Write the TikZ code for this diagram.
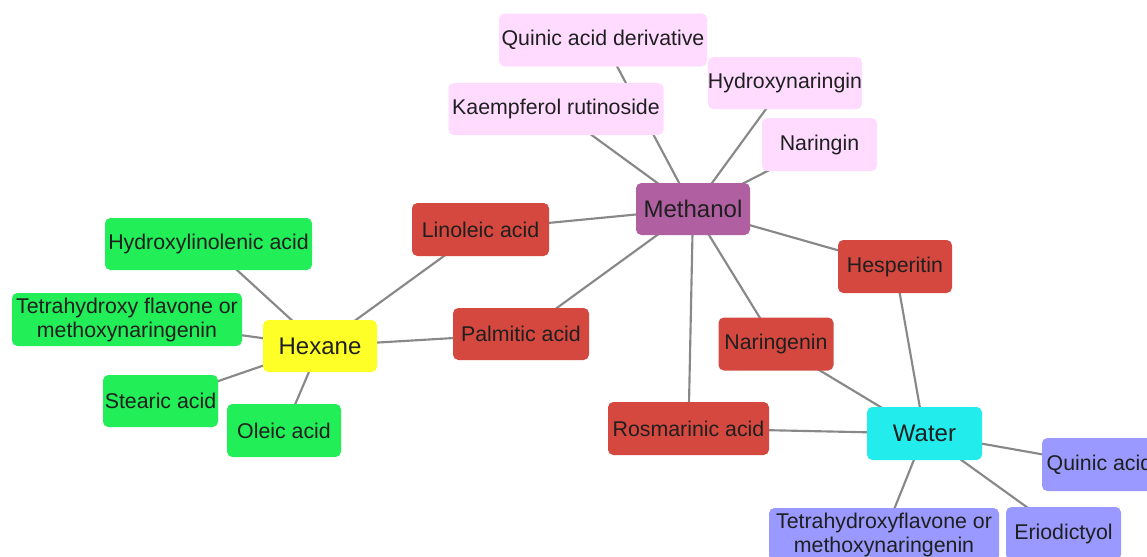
\documentclass[tikz,border=0pt]{standalone}
\usepackage{fontspec}
\setmainfont{Liberation Sans}
\usetikzlibrary{backgrounds}
\definecolor{cgreen}{RGB}{34,238,88}
\definecolor{cyellow}{RGB}{255,255,40}
\definecolor{ccyan}{RGB}{34,236,236}
\definecolor{cviolet}{RGB}{153,153,255}
\definecolor{cpink}{RGB}{255,219,255}
\definecolor{cmeth}{RGB}{176,96,160}
\definecolor{cred}{RGB}{212,72,63}
\definecolor{cedge}{RGB}{136,136,136}
\tikzset{
  box/.style={rectangle, rounded corners=4pt, inner sep=0pt, align=center,
    text=black!88, font=\fontsize{16}{18}\selectfont},
  hub/.style={box, font=\fontsize{18}{20}\selectfont},
  leafg/.style={box, fill=cgreen},
  leafr/.style={box, fill=cred},
  leafp/.style={box, fill=cpink},
  leafv/.style={box, fill=cviolet},
  link/.style={draw=cedge, line width=1.6pt}
}
\begin{document}
\begin{tikzpicture}[x=0.75pt, y=-0.75pt]
\useasboundingbox (0,0) rectangle (1147,557);
\clip (0,0) rectangle (1147,557);
% hubs
\node[hub, fill=cmeth, minimum width=85.5pt, minimum height=39pt] (meth) at (693,209) {Methanol};
\node[hub, fill=cyellow, minimum width=85.5pt, minimum height=39pt] (hex) at (320,346) {Hexane};
\node[hub, fill=ccyan, minimum width=86.25pt, minimum height=39.75pt] (wat) at (924.5,433.5) {Water};
% methanol leaves
\node[leafp, minimum width=156pt, minimum height=39.75pt] (qad) at (603,40) {Quinic acid derivative};
\node[leafp, minimum width=161.25pt, minimum height=39pt] (kr) at (556,109) {Kaempferol rutinoside};
\node[leafp, minimum width=115.5pt, minimum height=39pt] (hyn) at (785,83) {Hydroxynaringin};
\node[leafp, minimum width=86.25pt, minimum height=39.75pt] (nar) at (819.5,144.5) {Naringin};
% shared red
\node[leafr, minimum width=102.75pt, minimum height=39.75pt] (lin) at (480.5,229.5) {Linoleic acid};
\node[leafr, minimum width=102pt, minimum height=39pt] (pal) at (521,334) {Palmitic acid};
\node[leafr, minimum width=85.5pt, minimum height=39.75pt] (hes) at (895,266.5) {Hesperitin};
\node[leafr, minimum width=86.25pt, minimum height=39.75pt] (ngn) at (776,344) {Naringenin};
\node[leafr, minimum width=120.75pt, minimum height=39.75pt] (ros) at (688.5,428.5) {Rosmarinic acid};
% hexane leaves
\node[leafg, minimum width=155.25pt, minimum height=39pt] (hyl) at (208.5,244) {Hydroxylinolenic acid};
\node[leafg, minimum width=172.5pt, minimum height=39.75pt] (thf) at (127,319.5) {Tetrahydroxy flavone or\\methoxynaringenin};
\node[leafg, minimum width=86.25pt, minimum height=39pt] (ste) at (160.5,401) {Stearic acid};
\node[leafg, minimum width=85.5pt, minimum height=39.75pt] (ole) at (284,430.5) {Oleic acid};
% water leaves
\node[leafv, minimum width=86.25pt, minimum height=39.75pt] (qa) at (1099.5,464.5) {Quinic acid};
\node[leafv, minimum width=172.5pt, minimum height=39.75pt] (thf2) at (884,534.5) {Tetrahydroxyflavone or\\methoxynaringenin};
\node[leafv, minimum width=86.25pt, minimum height=39.75pt] (eri) at (1063.5,533.5) {Eriodictyol};
\begin{pgfonlayer}{background}
\foreach \a/\b in {meth/qad, meth/kr, meth/hyn, meth/nar, meth/lin, meth/pal,
  meth/hes, meth/ngn, meth/ros, hex/lin, hex/pal, hex/hyl, hex/thf, hex/ste,
  hex/ole, wat/hes, wat/ngn, wat/ros, wat/qa, wat/thf2, wat/eri}
  \draw[link] (\a.center) -- (\b.center);
\end{pgfonlayer}
\end{tikzpicture}
\end{document}
